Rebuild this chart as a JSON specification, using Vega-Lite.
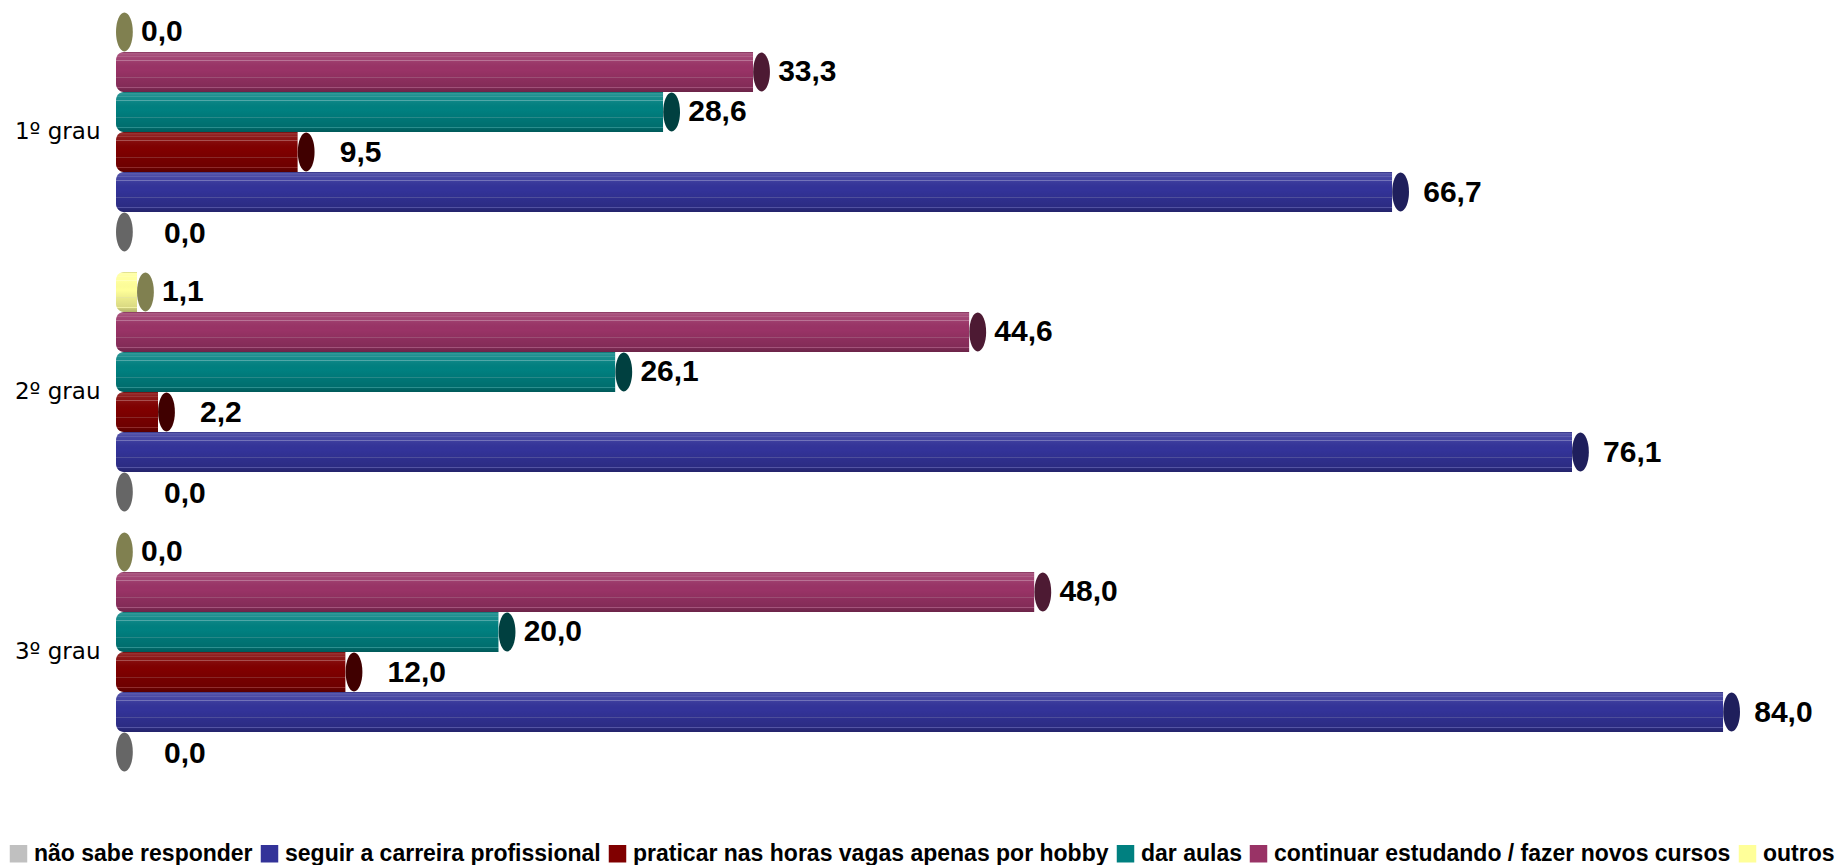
{
  "$schema": "https://vega.github.io/schema/vega-lite/v6.json",
  "width": 1722,
  "height": 780,
  "autosize": "none",
  "padding": {"left": 116, "top": 2, "right": 5, "bottom": 83},
  "background": "white",
  "config": {"view": {"stroke": null}},
  "data": {
    "values": [
      {"grau": "1º grau", "serie": "outros", "valor": 0.0, "rotulo": "0,0"},
      {"grau": "1º grau", "serie": "continuar estudando / fazer novos cursos", "valor": 33.3, "rotulo": "33,3"},
      {"grau": "1º grau", "serie": "dar aulas", "valor": 28.6, "rotulo": "28,6"},
      {"grau": "1º grau", "serie": "praticar nas horas vagas apenas por hobby", "valor": 9.5, "rotulo": "9,5"},
      {"grau": "1º grau", "serie": "seguir a carreira profissional", "valor": 66.7, "rotulo": "66,7"},
      {"grau": "1º grau", "serie": "não sabe responder", "valor": 0.0, "rotulo": "0,0"},
      {"grau": "2º grau", "serie": "outros", "valor": 1.1, "rotulo": "1,1"},
      {"grau": "2º grau", "serie": "continuar estudando / fazer novos cursos", "valor": 44.6, "rotulo": "44,6"},
      {"grau": "2º grau", "serie": "dar aulas", "valor": 26.1, "rotulo": "26,1"},
      {"grau": "2º grau", "serie": "praticar nas horas vagas apenas por hobby", "valor": 2.2, "rotulo": "2,2"},
      {"grau": "2º grau", "serie": "seguir a carreira profissional", "valor": 76.1, "rotulo": "76,1"},
      {"grau": "2º grau", "serie": "não sabe responder", "valor": 0.0, "rotulo": "0,0"},
      {"grau": "3º grau", "serie": "outros", "valor": 0.0, "rotulo": "0,0"},
      {"grau": "3º grau", "serie": "continuar estudando / fazer novos cursos", "valor": 48.0, "rotulo": "48,0"},
      {"grau": "3º grau", "serie": "dar aulas", "valor": 20.0, "rotulo": "20,0"},
      {"grau": "3º grau", "serie": "praticar nas horas vagas apenas por hobby", "valor": 12.0, "rotulo": "12,0"},
      {"grau": "3º grau", "serie": "seguir a carreira profissional", "valor": 84.0, "rotulo": "84,0"},
      {"grau": "3º grau", "serie": "não sabe responder", "valor": 0.0, "rotulo": "0,0"}
    ]
  },
  "encoding": {
    "y": {
      "field": "grau", "type": "nominal",
      "sort": ["1º grau", "2º grau", "3º grau"],
      "scale": {"paddingInner": 0.0769, "paddingOuter": 0.0385},
      "axis": {"title": null, "domain": false, "ticks": false, "labelFont": "DejaVu Sans", "labelFontSize": 23, "labelColor": "#000000", "labelPadding": 16}
    },
    "yOffset": {
      "field": "serie", "type": "nominal",
      "sort": ["outros", "continuar estudando / fazer novos cursos", "dar aulas", "praticar nas horas vagas apenas por hobby", "seguir a carreira profissional", "não sabe responder"],
      "scale": {"paddingInner": 0, "paddingOuter": 0}
    },
    "x": {
      "field": "valor", "type": "quantitative",
      "scale": {"domain": [0, 90], "nice": false, "zero": true},
      "axis": null
    }
  },
  "layer": [
    {
      "mark": {"type": "bar", "cornerRadiusTopLeft": 8, "cornerRadiusBottomLeft": 8},
      "encoding": {
        "color": {
          "field": "serie", "type": "nominal",
          "scale": {
            "domain": ["não sabe responder", "seguir a carreira profissional", "praticar nas horas vagas apenas por hobby", "dar aulas", "continuar estudando / fazer novos cursos", "outros"],
            "range": ["#c0c0c0", "#333399", "#800000", "#008080", "#993366", "#ffff99"]
          },
          "legend": {
            "orient": "none", "legendX": -109, "legendY": 840,
            "direction": "horizontal", "columns": 6, "title": null,
            "symbolType": "square", "symbolSize": 306, "symbolStrokeWidth": 0, "symbolOpacity": 1,
            "labelFont": "Liberation Sans", "labelFontWeight": "bold", "labelFontSize": 23, "labelColor": "#000000",
            "labelLimit": 700, "labelOffset": 4, "columnPadding": 5, "padding": 0
          }
        }
      }
    },
    {
      "mark": {
        "type": "bar", "cornerRadiusTopLeft": 8, "cornerRadiusBottomLeft": 8,
        "color": {
          "gradient": "linear", "x1": 0, "y1": 0, "x2": 0, "y2": 1,
          "stops": [
            {"offset": 0.0, "color": "rgba(0,0,0,0.2)"},
            {"offset": 0.03, "color": "rgba(255,255,255,0.2)"},
            {"offset": 0.09, "color": "rgba(255,255,255,0.12)"},
            {"offset": 0.1, "color": "rgba(255,255,255,0.4)"},
            {"offset": 0.12, "color": "rgba(255,255,255,0.1)"},
            {"offset": 0.2, "color": "rgba(255,255,255,0.08)"},
            {"offset": 0.21, "color": "rgba(255,255,255,0.35)"},
            {"offset": 0.23, "color": "rgba(255,255,255,0.05)"},
            {"offset": 0.45, "color": "rgba(0,0,0,0)"},
            {"offset": 0.62, "color": "rgba(0,0,0,0.06)"},
            {"offset": 0.63, "color": "rgba(255,255,255,0.35)"},
            {"offset": 0.65, "color": "rgba(0,0,0,0.08)"},
            {"offset": 0.88, "color": "rgba(0,0,0,0.15)"},
            {"offset": 0.89, "color": "rgba(255,255,255,0.25)"},
            {"offset": 0.91, "color": "rgba(0,0,0,0.2)"},
            {"offset": 1.0, "color": "rgba(0,0,0,0.3)"}
          ]
        }
      }
    },
    {
      "mark": {
        "type": "point",
        "shape": "M0.42,-0.97A0.42,0.97,0,1,1,0.42,0.97A0.42,0.97,0,1,1,0.42,-0.97Z",
        "size": 1600, "filled": true, "opacity": 1, "strokeWidth": 0
      },
      "encoding": {
        "color": {
          "field": "serie", "type": "nominal",
          "scale": {
            "domain": ["não sabe responder", "seguir a carreira profissional", "praticar nas horas vagas apenas por hobby", "dar aulas", "continuar estudando / fazer novos cursos", "outros"],
            "range": ["#666666", "#1f1f5c", "#400000", "#004040", "#4d1a33", "#808050"]
          },
          "legend": null
        }
      }
    },
    {
      "transform": [{"filter": {"field": "serie", "oneOf": ["não sabe responder"]}}],
      "mark": {"type": "text", "align": "left", "baseline": "middle", "dx": 48, "dy": 2, "font": "Liberation Sans", "fontWeight": "bold", "fontSize": 30, "color": "#000000"},
      "encoding": {"text": {"field": "rotulo"}}
    },
    {
      "transform": [{"filter": {"field": "serie", "oneOf": ["praticar nas horas vagas apenas por hobby"]}}],
      "mark": {"type": "text", "align": "left", "baseline": "middle", "dx": 42, "dy": 1, "font": "Liberation Sans", "fontWeight": "bold", "fontSize": 30, "color": "#000000"},
      "encoding": {"text": {"field": "rotulo"}}
    },
    {
      "transform": [{"filter": {"field": "serie", "oneOf": ["seguir a carreira profissional"]}}],
      "mark": {"type": "text", "align": "left", "baseline": "middle", "dx": 31, "dy": 1, "font": "Liberation Sans", "fontWeight": "bold", "fontSize": 30, "color": "#000000"},
      "encoding": {"text": {"field": "rotulo"}}
    },
    {
      "transform": [{"filter": {"field": "serie", "oneOf": ["outros", "continuar estudando / fazer novos cursos", "dar aulas"]}}],
      "mark": {"type": "text", "align": "left", "baseline": "middle", "dx": 25, "dy": 0, "font": "Liberation Sans", "fontWeight": "bold", "fontSize": 30, "color": "#000000"},
      "encoding": {"text": {"field": "rotulo"}}
    }
  ],
  "resolve": {"scale": {"color": "independent"}}
}
